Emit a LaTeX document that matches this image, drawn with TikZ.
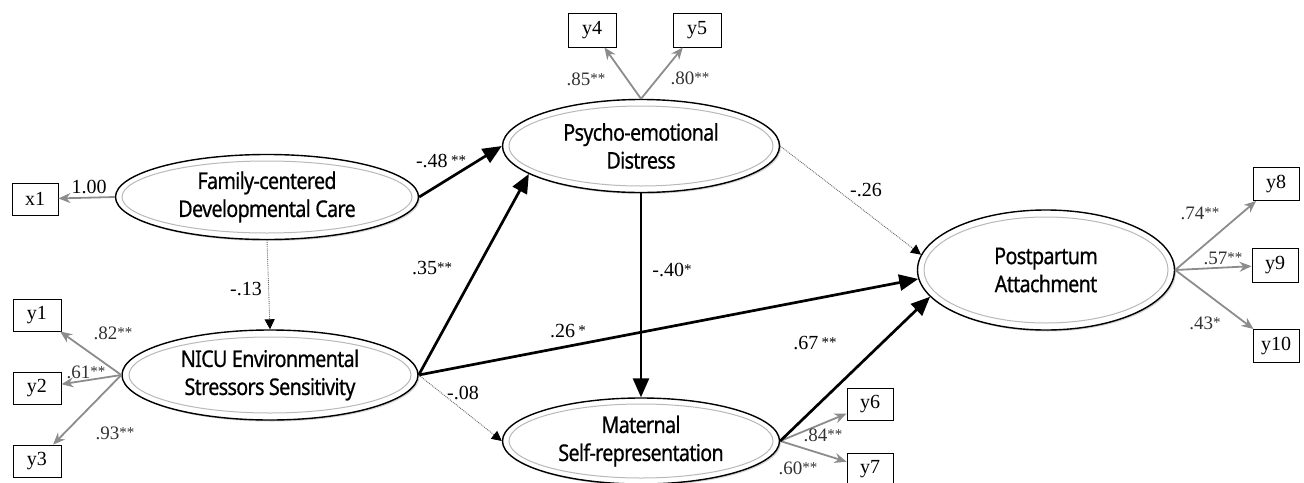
\documentclass[tikz,border=0pt]{standalone}
\usepackage{fontspec}
\setmainfont{Liberation Serif}
\newfontfamily\ellfont[FakeStretch=0.86,LetterSpace=-3,FakeBold=0.6]{Noto Sans}
\usetikzlibrary{shapes.geometric,arrows.meta,shadows}
\definecolor{indgray}{RGB}{140,140,140}
\definecolor{lblgray}{RGB}{50,50,50}
\newcommand{\st}[1]{\raisebox{2pt}{\fontsize{15}{15}\selectfont #1}}
\begin{document}
\begin{tikzpicture}[x=1pt,y=-1pt,
  lat/.style={ellipse, draw=black, line width=1.4pt, fill=white, inner sep=0pt,
    drop shadow={opacity=0.35, shadow xshift=1.5pt, shadow yshift=-1.5pt}},
  lattext/.style={font=\ellfont\fontsize{23}{28}\selectfont, align=center, inner sep=0pt},
  obs/.style={draw=black, line width=0.9pt, fill=white, minimum width=46pt,
    minimum height=32pt, inner sep=0pt, font=\fontsize{20}{20}\selectfont},
  inner/.style={draw=gray!55, line width=1pt},
  ind/.style={draw=indgray, line width=1.8pt, -{Stealth[length=12pt,width=10pt]}},
  pth/.style={draw=black, line width=2.7pt, -{Triangle[length=19pt,width=16pt]}},
  dpth/.style={draw=gray!80!black, densely dotted, line width=0.9pt, -{Triangle[length=10pt,width=10pt,black]}},
  lbl/.style={font=\fontsize{20}{20}\selectfont, inner sep=0pt, text=black},
  ilbl/.style={font=\fontsize{19}{19}\selectfont, inner sep=0pt, text=lblgray}
]
\useasboundingbox (0,0) rectangle (1304,482);

% latent variables
\node[lat, minimum width=303pt, minimum height=85pt] (fam) at (267,197) {};
\node[lat, minimum width=296pt, minimum height=90pt] (nicu) at (270,375) {};
\node[lat, minimum width=277pt, minimum height=93pt] (psy) at (641,146) {};
\node[lat, minimum width=277pt, minimum height=86pt] (mat) at (641,441) {};
\node[lat, minimum width=257pt, minimum height=120pt] (post) at (1046,270) {};

\draw[inner] (fam.center) ellipse [x radius=145pt, y radius=36pt];
\draw[inner] (nicu.center) ellipse [x radius=141pt, y radius=38pt];
\draw[inner] (psy.center) ellipse [x radius=132pt, y radius=40pt];
\draw[inner] (mat.center) ellipse [x radius=132pt, y radius=37pt];
\draw[inner] (post.center) ellipse [x radius=122pt, y radius=53pt];

\node[lattext] (famt) at (fam.center) {Family-centered\\Developmental Care};
\node[lattext] (nicut) at (nicu.center) {NICU Environmental\\Stressors Sensitivity};
\node[lattext] (psyt) at (psy.center) {Psycho-emotional\\Distress};
\node[lattext] (matt) at (mat.center) {Maternal\\Self-representation};
\node[lattext] (postt) at (post.center) {Postpartum\\Attachment};

% observed variables
\node[obs] (x1) at (35,199) {x1};
\node[obs, minimum width=48pt] (y1) at (37,315) {y1};
\node[obs, minimum width=48pt] (y2) at (37,388) {y2};
\node[obs, minimum width=48pt] (y3) at (37,461) {y3};
\node[obs, minimum width=48pt, minimum height=34pt] (y4) at (592,30) {y4};
\node[obs, minimum width=48pt, minimum height=34pt] (y5) at (697,30) {y5};
\node[obs] (y6) at (870,404) {y6};
\node[obs] (y7) at (870,469) {y7};
\node[obs, minimum height=33pt] (y8) at (1276,184) {y8};
\node[obs, minimum height=34pt] (y9) at (1275,265) {y9};
\node[obs, minimum height=33pt] (y10) at (1276,346) {y10};

% measurement arrows
\draw[ind] (fam.west) -- (x1);
\draw[ind] (nicu.west) -- (y1);
\draw[ind] (nicu.west) -- (y2);
\draw[ind] (nicu.west) -- (y3);
\draw[ind] (psy.north) -- (y4);
\draw[ind] (psy.north) -- (y5);
\draw[ind] (mat.east) -- (y6);
\draw[ind] (mat.east) -- (y7);
\draw[ind] (post.east) -- (y8);
\draw[ind] (post.east) -- (y9);
\draw[ind] (post.east) -- (y10);

% structural paths
\draw[dpth] (fam.south) -- (nicu.north);
\draw[pth] (fam.east) -- (psy.west);
\draw[pth] (nicu.east) -- (psy.194);
\draw[pth] (nicu.east) -- (post.184);
\draw[dpth] (nicu.east) -- (mat.west);
\draw[pth] (psy.south) -- (mat.north);
\draw[dpth] (psy.east) -- (post.173);
\draw[pth] (mat.east) -- (post.193);

% measurement labels
\node[lbl] (l100) at (89,187) {1.00};
\node[ilbl] (l82) at (113,333) {.82\st{**}};
\node[ilbl] (l61) at (86,372) {.61\st{**}};
\node[ilbl] (l93) at (115,433) {.93\st{**}};
\node[ilbl] (l85) at (586,79) {.85\st{**}};
\node[ilbl] (l80) at (690,78) {.80\st{**}};
\node[ilbl] (l84) at (823,435) {.84\st{**}};
\node[ilbl] (l60) at (798,468) {.60\st{**}};
\node[ilbl] (l74) at (1200,213) {.74\st{**}};
\node[ilbl] (l57) at (1223,258) {.57\st{**}};
\node[ilbl] (l43) at (1205,323) {.43\st{*}};

% structural labels
\node[lbl] (l13) at (246,289) {-.13};
\node[lbl] (l48) at (441,161) {-.48\,\st{**}};
\node[lbl] (l35) at (432,268) {.35\st{**}};
\node[lbl] (l26a) at (568,331) {.26\,\st{*}};
\node[lbl] (l08) at (463,393) {-.08};
\node[lbl] (l40) at (672,270) {-.40\st{*}};
\node[lbl] (l26b) at (866,190) {-.26};
\node[lbl] (l67) at (815,343) {.67\,\st{**}};
\end{tikzpicture}
\end{document}
